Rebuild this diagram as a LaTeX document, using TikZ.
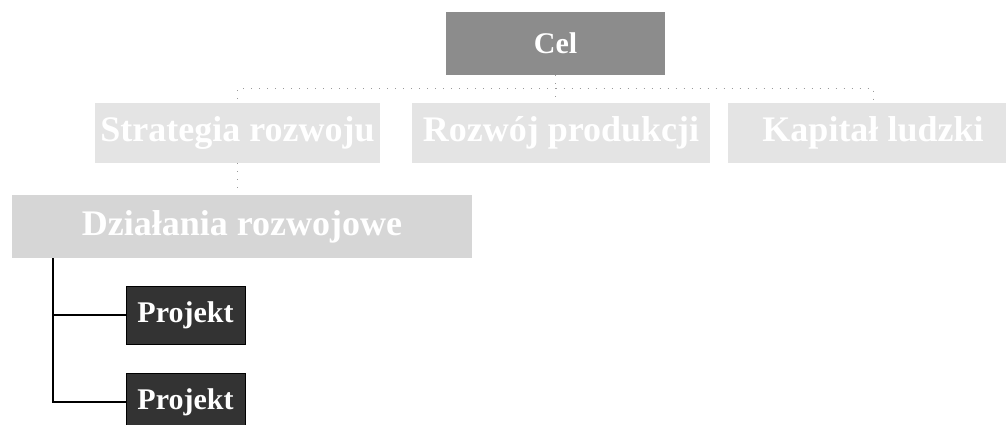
\documentclass[tikz,border=0pt]{standalone}
\usepackage{fontspec}
\setmainfont{Liberation Serif}
\definecolor{celgray}{HTML}{8C8C8C}
\definecolor{lightbox}{HTML}{E4E4E4}
\definecolor{midlight}{HTML}{D6D6D6}
\definecolor{projdark}{HTML}{333333}
\definecolor{dotgray}{HTML}{9A9A9A}
\begin{document}
\begin{tikzpicture}[x=1pt,y=1pt,
  boxbase/.style={rectangle, inner sep=0pt, text=white, font=\fontsize{30}{32}\selectfont\bfseries},
  bigtext/.style={font=\fontsize{36}{38}\selectfont\bfseries},
  topbox/.style={boxbase, fill=celgray, minimum width=219pt, minimum height=63pt},
  levelbox/.style={boxbase, bigtext, fill=lightbox, minimum height=60pt},
  actbox/.style={boxbase, bigtext, fill=midlight, minimum width=460pt, minimum height=63pt},
  projbox/.style={boxbase, fill=projdark, draw=black, line width=1pt, minimum width=119pt, minimum height=58pt},
  dotlink/.style={draw=dotgray, line width=0.8pt, dash pattern=on 1pt off 7pt},
  solidlink/.style={draw=black, line width=2pt}]
\useasboundingbox (0,0) rectangle (1006,-424);
\fill[white] (0,0) rectangle (1006,-424);
\node[topbox] (cel) at (555.5,-43.5) {Cel};
\node[levelbox, minimum width=285pt] (s1) at (237.5,-133) {Strategia rozwoju};
\node[levelbox, minimum width=298pt] (s2) at (561,-133) {Rozwój produkcji};
\node[levelbox, minimum width=290pt] (s3) at (873,-133) {Kapitał ludzki};
\node[actbox] (dz) at (242,-226.5) {Działania rozwojowe};
\node[projbox] (p1) at (185.5,-315) {Projekt};
\node[projbox] (p2) at (185.5,-402) {Projekt};
\coordinate (bus) at (555.5,-88);
\draw[dotlink] (cel.south) -- (bus);
\draw[dotlink] (bus) -| (s1.north);
\draw[dotlink] (bus) -- (s2.north -| bus);
\draw[dotlink] (bus) -| (s3.north);
\draw[dotlink] (s1.south) -- (s1.south |- dz.north);
\coordinate (trunk) at (53,-258);
\draw[solidlink] (trunk) |- (p2.west);
\draw[solidlink] (trunk |- p1.west) -- (p1.west);
\end{tikzpicture}
\end{document}
